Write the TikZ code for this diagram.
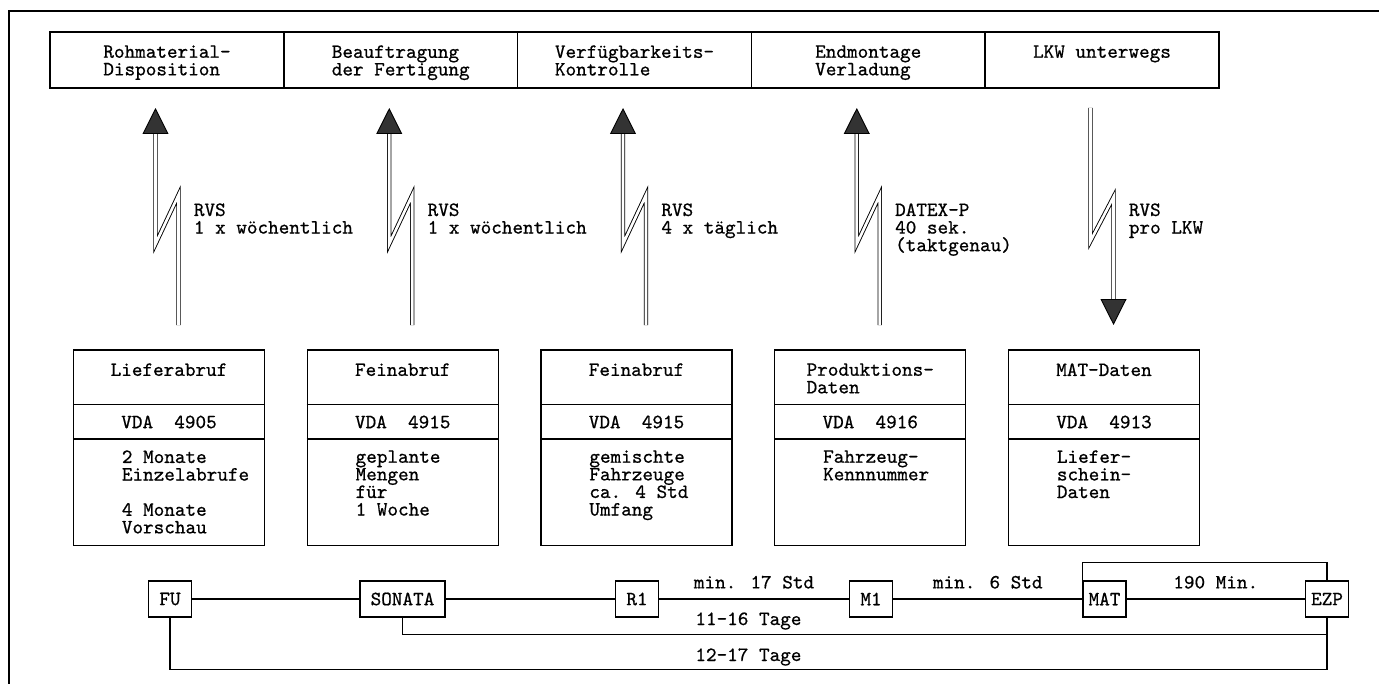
\documentclass[tikz,border=0pt]{standalone}
\usepackage{fontspec}
\usepackage{tikz}
\usetikzlibrary{arrows.meta}

\newfontfamily\typew[FakeBold=0.7]{lmmono10-regular.otf}

\begin{document}
\begin{tikzpicture}[x=0.5pt, y=-0.5pt,
    every node/.style={font=\typew\fontsize{10.1pt}{8.8pt}\selectfont},
    outerline/.style={line width=0.7pt},
    topbox/.style={draw, line width=0.7pt, minimum width=116.875pt, minimum height=28pt, inner sep=0pt},
    toptext/.style={anchor=north, align=left, inner sep=0pt},
    bolt/.style={line width=0.45pt, double, double distance=1.3pt},
    uptip/.style={-{Triangle[width=13pt, length=13pt, fill=black!80]}},
    bolttext/.style={anchor=north west, align=left, inner sep=0pt},
    infobox/.style={draw, line width=0.7pt, minimum width=95.5pt, minimum height=97.75pt, inner sep=0pt},
    headtext/.style={anchor=north, align=left, inner sep=0pt},
    vdatext/.style={inner sep=0pt},
    bodytext/.style={anchor=north west, align=left, inner sep=0pt},
    station/.style={draw, line width=0.7pt, minimum width=21.5pt, minimum height=18pt, inner xsep=2pt},
    conn/.style={line width=0.7pt},
    lbl/.style={anchor=base west, inner sep=0pt}
    ]
    
    \useasboundingbox (0,0) rectangle (1379,684);
    \draw[outerline] (9,690) -- (9,11) -- (1390,11);
    
    % Bereiche beim Hersteller
    \node[topbox] (b1) at (167, 60)     {};
    \node[topbox] (b2) at (400.75, 60)  {};
    \node[topbox] (b3) at (634.5, 60)   {};
    \node[topbox] (b4) at (868.25, 60)  {};
    \node[topbox] (b5) at (1102, 60)    {};
    \node[toptext] (bt1) at (167, 45)    {Rohmaterial-\\Disposition};
    \node[toptext] (bt2) at (400.75, 45) {Beauftragung\\der Fertigung};
    \node[toptext] (bt3) at (634.5, 45)  {Verfügbarkeits-\\Kontrolle};
    \node[toptext] (bt4) at (868.25, 45) {Endmontage\\Verladung};
    \node[toptext] (bt5) at (1102, 45)   {LKW unterwegs};
    
    % Datenfernuebertragung
    \coordinate (s1) at (178.5, 325);   \coordinate (e1) at (155.5, 108);
    \coordinate (s2) at (412.25, 325);  \coordinate (e2) at (389.25, 108);
    \coordinate (s3) at (646, 325);     \coordinate (e3) at (623, 108);
    \coordinate (s4) at (879.75, 325);  \coordinate (e4) at (856.75, 108);
    \coordinate (s5) at (1090.5, 108);  \coordinate (e5) at (1113.5, 325);
    
    \draw[bolt, uptip] (s1) -- ++(0,-130) -- ++(-23,49) -- (e1);
    \draw[bolt, uptip] (s2) -- ++(0,-130) -- ++(-23,49) -- (e2);
    \draw[bolt, uptip] (s3) -- ++(0,-130) -- ++(-23,49) -- (e3);
    \draw[bolt, uptip] (s4) -- ++(0,-130) -- ++(-23,49) -- (e4);
    \draw[bolt, uptip] (s5) -- ++(0,133) -- ++(23,-44) -- (e5);
    
    \node[bolttext] (d1) at (193.5, 203)  {RVS\\1 x wöchentlich};
    \node[bolttext] (d2) at (427.25, 203) {RVS\\1 x wöchentlich};
    \node[bolttext] (d3) at (661, 203)    {RVS\\4 x täglich};
    \node[bolttext] (d4) at (894.75, 203) {DATEX-P\\40 sek.\\(taktgenau)};
    \node[bolttext] (d5) at (1128.5, 203) {RVS\\pro LKW};
    
    % Datensaetze
    \node[infobox] (f1) at (169, 447.75)    {};
    \node[infobox] (f2) at (402.75, 447.75) {};
    \node[infobox] (f3) at (636.5, 447.75)  {};
    \node[infobox] (f4) at (870.25, 447.75) {};
    \node[infobox] (f5) at (1104, 447.75)   {};
    \draw[conn] ([yshift=-27.5pt]f1.north west) -- ([yshift=-27.5pt]f1.north east);
    \draw[conn] ([yshift=-44.75pt]f1.north west) -- ([yshift=-44.75pt]f1.north east);
    \draw[conn] ([yshift=-27.5pt]f2.north west) -- ([yshift=-27.5pt]f2.north east);
    \draw[conn] ([yshift=-44.75pt]f2.north west) -- ([yshift=-44.75pt]f2.north east);
    \draw[conn] ([yshift=-27.5pt]f3.north west) -- ([yshift=-27.5pt]f3.north east);
    \draw[conn] ([yshift=-44.75pt]f3.north west) -- ([yshift=-44.75pt]f3.north east);
    \draw[conn] ([yshift=-27.5pt]f4.north west) -- ([yshift=-27.5pt]f4.north east);
    \draw[conn] ([yshift=-44.75pt]f4.north west) -- ([yshift=-44.75pt]f4.north east);
    \draw[conn] ([yshift=-27.5pt]f5.north west) -- ([yshift=-27.5pt]f5.north east);
    \draw[conn] ([yshift=-44.75pt]f5.north west) -- ([yshift=-44.75pt]f5.north east);
    
    \node[headtext] (h1) at (169, 363)    {Lieferabruf};
    \node[headtext] (h2) at (402.75, 363) {Feinabruf};
    \node[headtext] (h3) at (636.5, 363)  {Feinabruf};
    \node[headtext] (h4) at (870.25, 363) {Produktions-\\Daten};
    \node[headtext] (h5) at (1104, 363)   {MAT-Daten};
    
    \node[vdatext] (v1) at (169, 422)    {VDA~~4905};
    \node[vdatext] (v2) at (402.75, 422) {VDA~~4915};
    \node[vdatext] (v3) at (636.5, 422)  {VDA~~4915};
    \node[vdatext] (v4) at (870.25, 422) {VDA~~4916};
    \node[vdatext] (v5) at (1104, 422)   {VDA~~4913};
    
    \node[bodytext] (i1) at (121.5, 450)  {2 Monate\\Einzelabrufe\\[8.8pt]4 Monate\\Vorschau};
    \node[bodytext] (i2) at (355.25, 450) {geplante\\Mengen\\für\\1 Woche};
    \node[bodytext] (i3) at (589, 450)    {gemischte\\Fahrzeuge\\ca. 4 Std\\Umfang};
    \node[bodytext] (i4) at (822.75, 450) {Fahrzeug-\\Kennnummer};
    \node[bodytext] (i5) at (1056.5, 450) {Liefer-\\schein-\\Daten};
    
    % Materialfluss
    \node[station] (fu) at (170, 599)     {FU};
    \node[station, minimum width=42.5pt] (sonata) at (402.5, 599) {SONATA};
    \node[station] (r1) at (637, 599)     {R1};
    \node[station] (m1) at (871, 599)     {M1};
    \node[station] (mat) at (1104.5, 599) {MAT};
    \node[station] (ezp) at (1327, 599)   {EZP};
    
    \path[conn] (fu) edge (sonata);
    \path[conn] (sonata) edge (r1);
    \path[conn] (r1) edge node[above=1.5pt]{min. 17 Std} (m1);
    \path[conn] (m1) edge node[above=1.5pt]{min. 6 Std} (mat);
    \path[conn] (mat) edge node[above=1.5pt]{190 Min.} (ezp);
    
    \draw[conn] (mat.north west) -- ++(0,-18) -| (ezp.north);
    \draw[conn] (sonata.south) -- ++(0,17) -| (ezp.south);
    \draw[conn] (fu.south) -- ++(0,52) -| (ezp.south);
    
    \node[lbl] (t1) at (695, 625) {11-16 Tage};
    \node[lbl] (t2) at (695, 661) {12-17 Tage};
    
\end{tikzpicture}
\end{document}
